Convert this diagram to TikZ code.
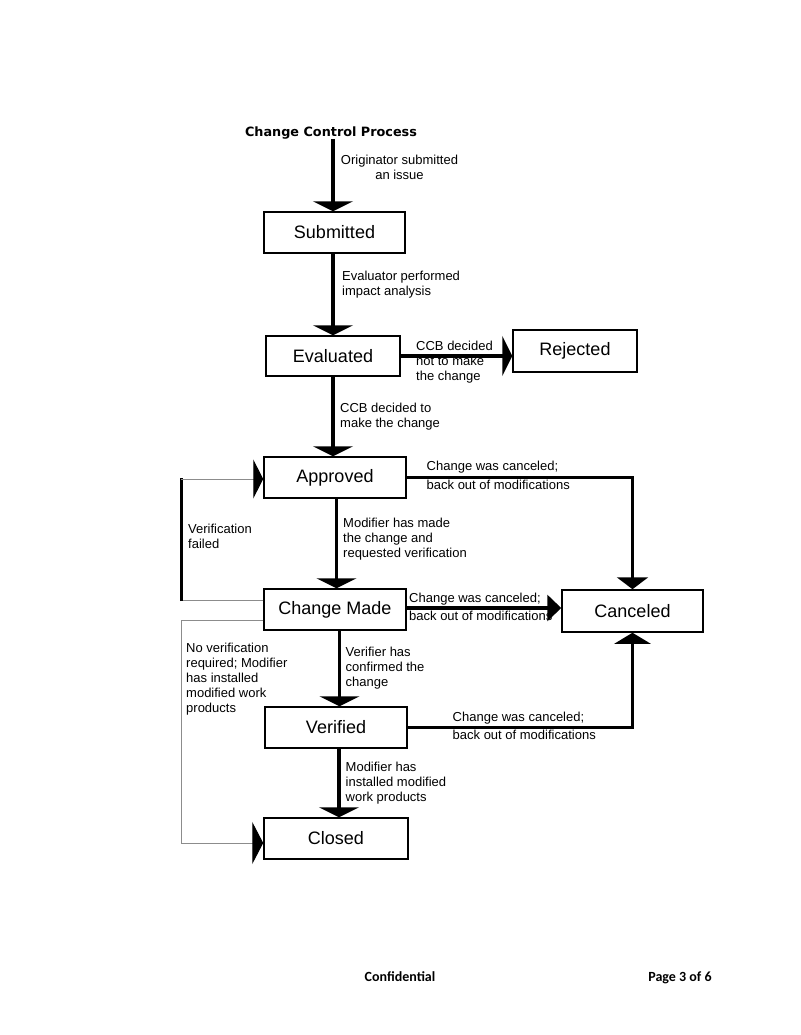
\documentclass[tikz,border=0pt]{standalone}
\usepackage{fontspec}
\setmainfont{Liberation Sans}
\newfontfamily\titlefont{DejaVu Sans}
\newfontfamily\footfont{Carlito}
\usetikzlibrary{arrows.meta}
\definecolor{linegray}{RGB}{140,140,140}
\begin{document}
\begin{tikzpicture}[x=1pt,y=-1pt,
  stbox/.style={draw, line width=1.5pt, inner sep=0pt, font=\fontsize{18}{20}\selectfont},
  lbl/.style={inner sep=0pt, anchor=north west, align=left, font=\fontsize{13}{15}\selectfont},
  flow/.style={line width=3.4pt, -{Triangle[width=40pt,length=10pt]}},
  thinl/.style={line width=1pt, draw=linegray}]
\useasboundingbox (0,0) rectangle (800,1035);

% title and footer
\node[font=\titlefont\bfseries\fontsize{12.8}{15}\selectfont, anchor=base] (title) at (331,136.5) {Change Control Process};
\node[font=\footfont\bfseries\fontsize{14}{16}\selectfont, anchor=base] (conf) at (400,981) {Confidential};
\node[font=\footfont\bfseries\fontsize{14}{16}\selectfont, anchor=base] (page) at (680,981) {Page 3 of 6};

% states
\node[stbox, minimum width=141pt, minimum height=41pt] (sub) at (334.5,232.5) {Submitted};
\node[stbox, minimum width=134pt, minimum height=40pt] (eva) at (333,356) {Evaluated};
\node[stbox, minimum width=124pt, minimum height=42pt] (rej) at (575,351) {Rejected};
\node[stbox, minimum width=142pt, minimum height=41pt] (app) at (335,477.5) {Approved};
\node[stbox, minimum width=142pt, minimum height=41pt] (cm) at (335,609.5) {Change Made};
\node[stbox, minimum width=141pt, minimum height=42pt] (can) at (632.5,611) {Canceled};
\node[stbox, minimum width=142pt, minimum height=41pt] (ver) at (336,727.5) {Verified};
\node[stbox, minimum width=144pt, minimum height=41pt] (clo) at (336,838.5) {Closed};

% main flow
\coordinate (t0) at (333,139);
\draw[flow] (t0) -- (t0 |- sub.north);
\draw[flow] (sub.south -| eva.center) -- (eva.north);
\draw[flow] (eva.south) -- (eva.south |- app.north);
\draw[flow] ([xshift=1.5pt]app.south) -- ([xshift=1.5pt]app.south |- cm.north);
\draw[flow] ([xshift=4.5pt]cm.south) -- ([xshift=4.5pt]cm.south |- ver.north);
\draw[flow] ([xshift=3pt]ver.south) -- ([xshift=3pt]ver.south |- clo.north);
\draw[flow] (eva.east) -- (eva.east -| rej.west);

% cancel paths
\draw[line width=3.4pt, -{Triangle[width=31pt,length=12pt]}] (app.east) -- (app.east -| can.north) -- (can.north);
\draw[line width=3.4pt, -{Triangle[width=26pt,length=14pt]}] ([yshift=1.5pt]cm.east) -- ([yshift=1.5pt]cm.east -| can.west);
\draw[line width=3.4pt, -{Triangle[width=36pt,length=11pt]}] (ver.east) -- (ver.east -| can.south) -- (can.south);

% verification failed loop
\coordinate (vf1) at (181,600);
\coordinate (vf2) at (181,479);
\draw[thinl] (cm.west |- vf1) -- (vf1);
\draw[line width=3pt] ([yshift=-1pt]vf1) -- ([yshift=1pt]vf2);
\draw[thinl, -{Triangle[width=39pt,length=10pt,black]}] (vf2) -- (vf2 -| app.west);

% no verification loop
\coordinate (nv1) at (181,620);
\coordinate (nv2) at (181,843);
\draw[thinl, -{Triangle[width=42pt,length=11pt,black]}] (cm.west |- nv1) -- (nv1) -- (nv2) -- (nv2 -| clo.west);

% labels
\node[lbl, anchor=north, align=center] (lorig) at (399.5,155) {Originator submitted\\an issue};
\node[lbl] (leval) at (342,271) {Evaluator performed\\impact analysis};
\node[lbl] (lnot) at (416,341) {CCB decided\\not to make\\the change};
\node[lbl] (lto) at (340,402.5) {CCB decided to\\make the change};
\node[lbl, font=\fontsize{13}{19}\selectfont] (lc1) at (426.5,461) {Change was canceled;\\back out of modifications};
\node[lbl] (lvf) at (188,523.5) {Verification\\failed};
\node[lbl] (lmm) at (343,517.5) {Modifier has made\\the change and\\requested verification};
\node[lbl, font=\fontsize{13}{18}\selectfont] (lc2) at (409,592.5) {Change was canceled;\\back out of modifications};
\node[lbl] (lnv) at (186,642.5) {No verification\\required; Modifier\\has installed\\modified work\\products};
\node[lbl] (lvh) at (345.5,646.5) {Verifier has\\confirmed the\\change};
\node[lbl, font=\fontsize{13}{18}\selectfont] (lc3) at (452.5,711.5) {Change was canceled;\\back out of modifications};
\node[lbl] (lmi) at (345.5,761.5) {Modifier has\\installed modified\\work products};
\end{tikzpicture}
\end{document}
